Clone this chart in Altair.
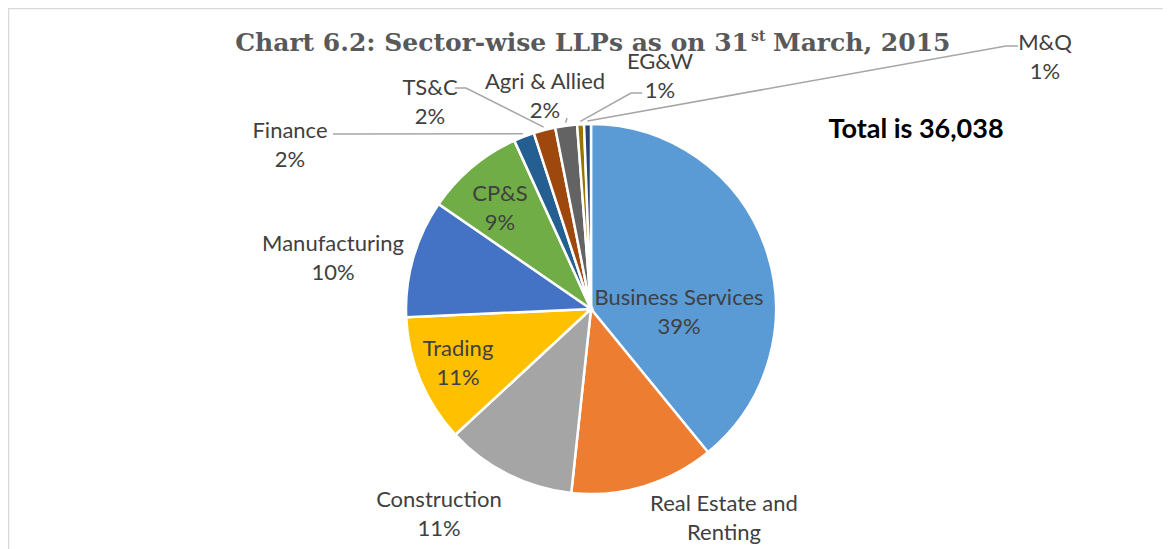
import altair as alt
import pandas as pd
import math

# ---------------- data ----------------
sectors = ["Business Services", "Real Estate and Renting", "Construction", "Trading",
           "Manufacturing", "CP&S", "Finance", "TS&C", "Agri & Allied", "EG&W", "M&Q"]
shares = [39.1, 12.6, 11.4, 11.2, 10.3, 8.6, 1.8, 1.9, 1.9, 0.6, 0.6]
label_names = ["Business Services", "Real Estate and\nRenting", "Construction", "Trading",
               "Manufacturing", "CP&S", "Finance", "TS&C", "Agri & Allied", "EG&W", "M&Q"]
colors = ["#5B9BD5", "#ED7D31", "#A5A5A5", "#FFC000", "#4472C4", "#70AD47",
          "#255E91", "#9E480E", "#636363", "#997300", "#264478"]
total_text = "Total is 36,038"

# ---------------- layout (pixels, chart coords) ----------------
W, H = 1155, 541
CX, CY, R = 583, 301, 185
LINE_H = 29
# label anchor (first line)
label_xy = [(671, 290), (716, 496), (431, 492), (450, 341), (325, 236), (492, 186),
            (282, 123), (422, 80), (537, 74), (652, 54), (1037, 35)]
# leader lines: (start, elbow) for slices that have one
leaders = {6: [(325, 126), (332, 126)], 7: [(447, 80), (458, 80)],
           8: [(559, 110), (559, 110)], 9: [(634, 85), (623, 85)],
           10: [(1010, 38), (998, 38)]}

total = sum(shares)
df = pd.DataFrame({"sector": sectors, "value": shares, "idx": list(range(len(sectors)))})

lab_rows = []
for i, (name, v) in enumerate(zip(label_names, shares)):
    pct = f"{int(v + 0.5)}%"
    lab_rows.append({"text": f"{name}\n{pct}", "px": label_xy[i][0], "py": label_xy[i][1]})
lab_df = pd.DataFrame(lab_rows)

lead_rows = []
cum = 0.0
for i, v in enumerate(shares):
    mid = (cum + v / 2) / total * 2 * math.pi
    cum += v
    if i in leaders:
        pts = leaders[i] + [(CX + (R + 3) * math.sin(mid), CY - (R + 3) * math.cos(mid))]
        for k, (x, y) in enumerate(pts):
            lead_rows.append({"g": sectors[i], "k": k, "px": x, "py": y})
lead_df = pd.DataFrame(lead_rows)

pie = alt.Chart(df).mark_arc(outerRadius=R, stroke="white", strokeWidth=2.5).encode(
    theta=alt.Theta("value:Q", stack=True, scale=alt.Scale(domain=[0, total])),
    color=alt.Color("sector:N", scale=alt.Scale(domain=sectors, range=colors), legend=None),
    order=alt.Order("idx:Q", sort="ascending"),
    x=alt.value(CX), y=alt.value(CY),
)

leader = alt.Chart(lead_df).mark_line(color="#A6A6A6", strokeWidth=1.5).encode(
    x=alt.X("px:Q", scale=None), y=alt.Y("py:Q", scale=None),
    detail="g:N", order="k:Q",
)

labels = alt.Chart(lab_df).mark_text(
    font="Lato", fontSize=22, color="#404040", align="center", baseline="middle",
    lineBreak="\n", lineHeight=LINE_H,
).encode(x=alt.X("px:Q", scale=None), y=alt.Y("py:Q", scale=None), text="text:N")

title_df = pd.DataFrame({"t1": ["Chart 6.2: Sector-wise LLPs as on 31"], "t2": ["st"],
                         "t3": ["March, 2015"], "tot": [total_text]})
tbase = alt.Chart(title_df)
TFONT = dict(font="DejaVu Serif", fontWeight="bold", color="#595959", baseline="middle")
t1 = tbase.mark_text(fontSize=25, align="right", **TFONT).encode(
    x=alt.value(741), y=alt.value(35), text="t1:N")
t2 = tbase.mark_text(fontSize=14, align="left", **TFONT).encode(
    x=alt.value(743), y=alt.value(29), text="t2:N")
t3 = tbase.mark_text(fontSize=25, align="left", **TFONT).encode(
    x=alt.value(765), y=alt.value(35), text="t3:N")
tot = tbase.mark_text(font="Lato", fontWeight="bold", fontSize=27, color="#000000",
                      align="center", baseline="middle").encode(
    x=alt.value(908), y=alt.value(122), text="tot:N")

frame_top = alt.Chart(title_df).mark_rule(color="#D9D9D9", strokeWidth=1.5).encode(
    x=alt.value(0), x2=alt.value(W), y=alt.value(0.5))
frame_left = alt.Chart(title_df).mark_rule(color="#D9D9D9", strokeWidth=1.5).encode(
    x=alt.value(0.5), y=alt.value(0), y2=alt.value(H))

chart = alt.layer(frame_top, frame_left, leader, pie, labels, t1, t2, t3, tot).properties(
    width=W, height=H, padding=0, autosize="none",
).configure_view(stroke=None)

chart.save("out.html", embed_options={"renderer": "svg", "actions": False})
